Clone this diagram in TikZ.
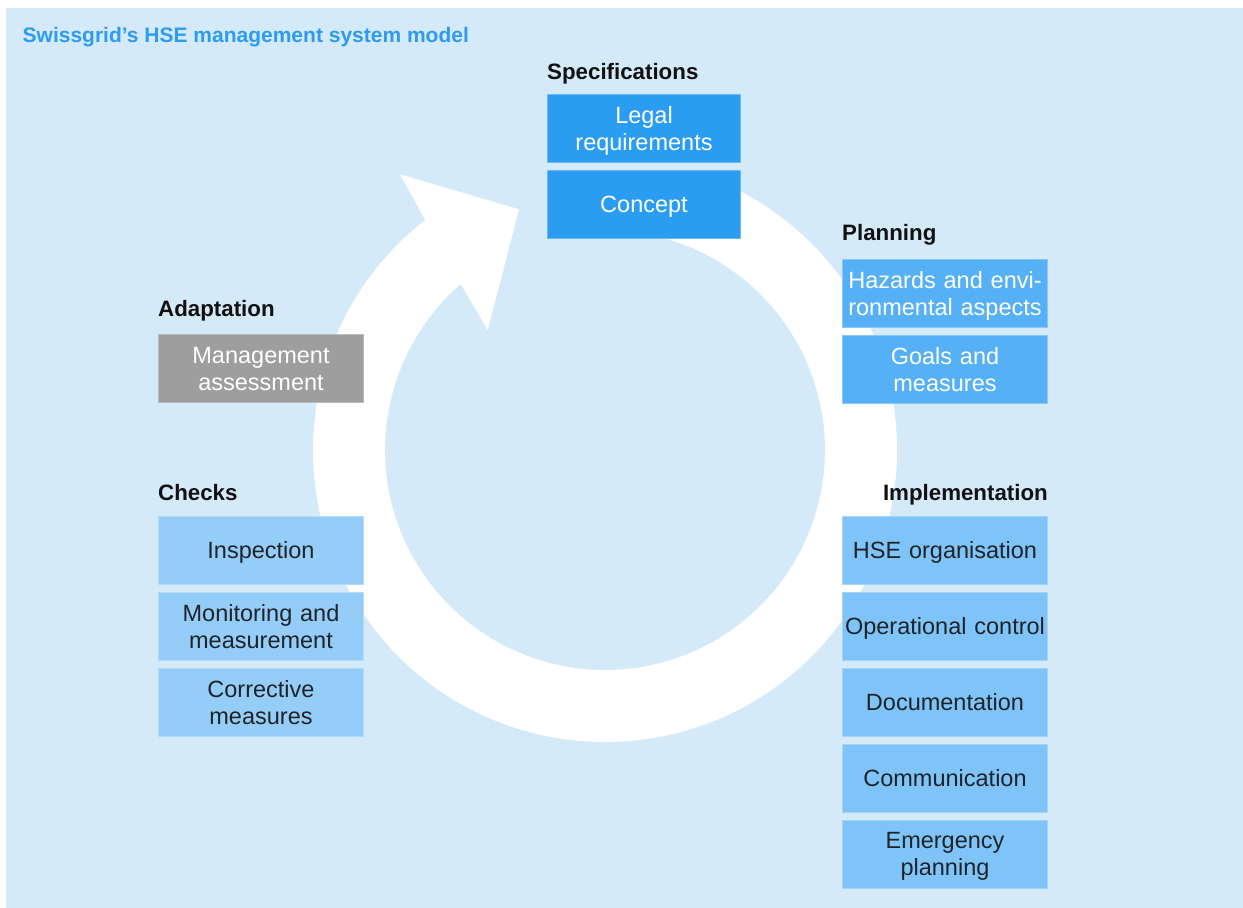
\documentclass[tikz,border=0pt]{standalone}
\usepackage{fontspec}
\setmainfont{Liberation Sans}
\definecolor{bgblue}{HTML}{D4EAF9}
\definecolor{specblue}{HTML}{2A9CF2}
\definecolor{planblue}{HTML}{56B0F6}
\definecolor{implblue}{HTML}{7EC4F8}
\definecolor{checkblue}{HTML}{93CDF8}
\definecolor{adaptgray}{HTML}{9E9E9E}
\definecolor{titleblue}{HTML}{2D9CF0}
\definecolor{darktext}{HTML}{1F2328}
\definecolor{headtext}{HTML}{111111}
\begin{document}
\begin{tikzpicture}[x=1pt,y=-1pt,
  box/.style={rectangle, fill=#1, draw=#1!70!white, line width=1pt,
    minimum width=205pt, minimum height=68pt, inner sep=0pt,
    text width=205pt, align=center,
    font=\fontsize{23.5}{27}\selectfont},
  narrowbox/.style={minimum width=193pt, text width=193pt},
  darktxt/.style={text=darktext},
  whitetxt/.style={text=white},
  oneline/.style={text height=16.8pt, text depth=0pt},
  twoline/.style={text height=16.8pt, text depth=27pt},
  heading/.style={inner sep=0pt, font=\fontsize{22.3}{26}\selectfont\bfseries, text=headtext},
]
\useasboundingbox (0,0) rectangle (1243,908);
\fill[bgblue] (6,8) rectangle (1243,908);

% circular arrow
\fill[white] ({605+292*cos(232)},{450+292*sin(232)})
  arc[start angle=232, end angle=-72, radius=292]
  -- ({605+220*cos(-80)},{450+220*sin(-80)})
  arc[start angle=-80, end angle=229, radius=220]
  -- (487.7,330) -- (519,209.3) -- (400,174.3) -- cycle;

% title
\node[anchor=base west, inner sep=0pt, font=\fontsize{21}{25}\selectfont\bfseries, text=titleblue]
  (title) at (22.5,42.7) {Swissgrid’s HSE management system model};

% headings
\node[heading, anchor=base west] (hspec) at (547,79.5) {Specifications};
\node[heading, anchor=base west] (hplan) at (842,240.5) {Planning};
\node[heading, anchor=base west] (hadapt) at (158,316.5) {Adaptation};
\node[heading, anchor=base west] (hcheck) at (158,500.5) {Checks};
\node[heading, anchor=base east] (himpl) at (1048,500.5) {Implementation};

% specifications
\node[box=specblue, narrowbox, whitetxt, twoline] (spec1) at (644,128.3) {Legal\\requirements};
\node[box=specblue, narrowbox, whitetxt, oneline] (spec2) at (644,204.3) {Concept};

% planning
\node[box=planblue, whitetxt, twoline] (plan1) at (945,293.3) {Hazards and envi-\\ronmental aspects};
\node[box=planblue, whitetxt, twoline] (plan2) at (945,369.3) {Goals and\\measures};

% adaptation
\node[box=adaptgray, whitetxt, twoline] (adapt1) at (261,368.3) {Management\\assessment};

% checks
\node[box=checkblue, darktxt, oneline] (check1) at (261,550.5) {Inspection};
\node[box=checkblue, darktxt, twoline] (check2) at (261,626.4) {Monitoring and\\measurement};
\node[box=checkblue, darktxt, twoline] (check3) at (261,702.2) {Corrective\\measures};

% implementation
\node[box=implblue, darktxt, oneline] (impl1) at (945,550.5) {HSE organisation};
\node[box=implblue, darktxt, oneline] (impl2) at (945,626.4) {Operational control};
\node[box=implblue, darktxt, oneline] (impl3) at (945,702.2) {Documentation};
\node[box=implblue, darktxt, oneline] (impl4) at (945,778.1) {Communication};
\node[box=implblue, darktxt, twoline] (impl5) at (945,854.0) {Emergency\\planning};
\end{tikzpicture}
\end{document}
